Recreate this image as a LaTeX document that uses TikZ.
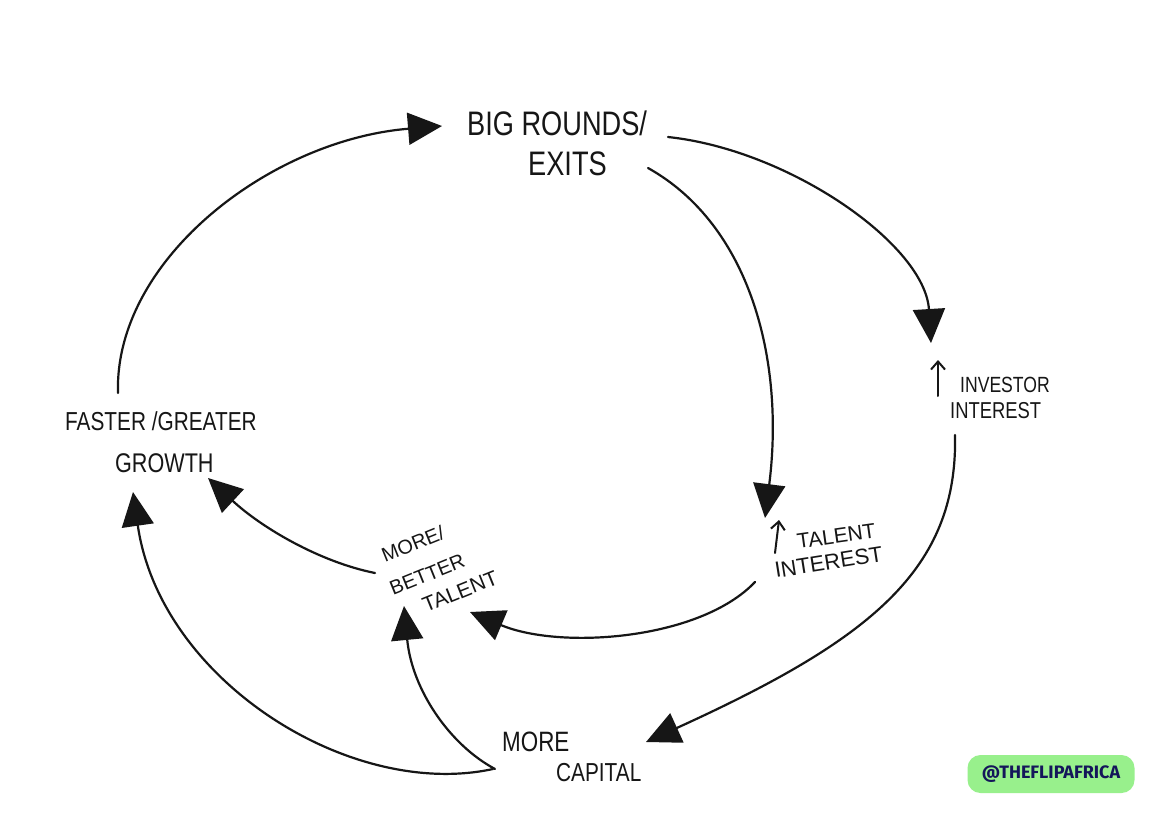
\documentclass[tikz,border=0pt]{standalone}
\usepackage{fontspec}
\setmainfont{Liberation Sans}
\newfontfamily\badgefont{Fira Sans}
\usetikzlibrary{arrows.meta}
\definecolor{ink}{RGB}{22,22,22}
\definecolor{badgegreen}{RGB}{152,240,140}
\definecolor{badgeink}{RGB}{20,22,90}
\begin{document}
\begin{tikzpicture}[x=1pt,y=-1pt,
  lbl/.style={inner sep=0pt, xscale=0.8, text=ink},
  lblr/.style={inner sep=0pt, text=ink},
  flow/.style={draw=ink, line width=2.2pt, line cap=round, -{Triangle[length=34pt,width=32pt]}},
  uparrow/.style={draw=ink, line width=2pt, line cap=round, -{Straight Barb[length=8pt,width=14pt]}}]
\fill[white] (0,0) rectangle (1170,827);
\useasboundingbox (0,0) rectangle (1170,827);

% labels
\node[lbl, anchor=base west, font=\fontsize{34}{34}\selectfont] (big1) at (467,135) {BIG ROUNDS/};
\node[lbl, anchor=base west, font=\fontsize{34}{34}\selectfont] (big2) at (528,175) {EXITS};
\node[lbl, anchor=base west, font=\fontsize{26}{26}\selectfont] (fast1) at (65,430) {FASTER /GREATER};
\node[lbl, anchor=base west, font=\fontsize{27}{27}\selectfont] (fast2) at (115,472) {GROWTH};
\node[lbl, anchor=base west, font=\fontsize{22}{22}\selectfont] (inv1) at (960,392) {INVESTOR};
\node[lbl, anchor=base west, font=\fontsize{23}{23}\selectfont] (inv2) at (950,418) {INTEREST};
\node[lblr, anchor=base west, rotate=8, font=\fontsize{21}{21}\selectfont] (tal1) at (798,549) {TALENT};
\node[lblr, anchor=base west, rotate=9, font=\fontsize{22}{22}\selectfont] (tal2) at (776,578) {INTEREST};
\node[lblr, anchor=base west, rotate=22, font=\fontsize{20}{20}\selectfont] (bet1) at (385,563) {MORE/};
\node[lblr, anchor=base west, rotate=22, font=\fontsize{20}{20}\selectfont] (bet2) at (393,596) {BETTER};
\node[lblr, anchor=base west, rotate=22, font=\fontsize{21}{21}\selectfont] (bet3) at (426,613) {TALENT};
\node[lbl, anchor=base west, font=\fontsize{28}{28}\selectfont] (cap1) at (502,751) {MORE};
\node[lbl, anchor=base west, font=\fontsize{26}{26}\selectfont] (cap2) at (556,781) {CAPITAL};

% badge
\node[fill=badgegreen, rounded corners=13pt, minimum width=167pt, minimum height=38pt, inner sep=0pt, text=badgeink, font=\badgefont\bfseries\fontsize{18}{18}\selectfont] (badge) at (1051,774) {@THEFLIPAFRICA};

% small up arrows
\coordinate (invA) at (938,396);
\coordinate (invB) at (938,360);
\coordinate (talA) at (775,553);
\coordinate (talB) at (779,520);
\draw[uparrow] (invA) -- (invB);
\draw[uparrow] (talA) -- (talB);

% connector end points
\coordinate (s1) at (118,393);   \coordinate (e1) at (442,126);
\coordinate (s2) at (668,137);   \coordinate (e2) at (931,343);
\coordinate (s3) at (648,168);   \coordinate (e3) at (765,518);
\coordinate (s4) at (955,435);   \coordinate (e4) at (646,742);
\coordinate (s5) at (755,582);   \coordinate (e5) at (470,612);
\coordinate (s6) at (375,573);   \coordinate (e6) at (208,478);
\coordinate (s7) at (495,769);   \coordinate (e7) at (404,606);
\coordinate (s8) at (493,769);   \coordinate (e8) at (133,492);

\draw[flow] (s1) .. controls (114,260) and (270,140) .. (e1);
\draw[flow] (s2) .. controls (790,150) and (925,245) .. (e2);
\draw[flow] (s3) .. controls (750,225) and (785,360) .. (e3);
\draw[flow] (s4) .. controls (958,570) and (870,640) .. (e4);
\draw[flow] (s5) .. controls (700,640) and (560,650) .. (e5);
\draw[flow] (s6) .. controls (320,562) and (262,528) .. (e6);
\draw[flow] (s7) .. controls (450,745) and (412,690) .. (e7);
\draw[flow] (s8) .. controls (350,800) and (160,680) .. (e8);
\end{tikzpicture}
\end{document}
